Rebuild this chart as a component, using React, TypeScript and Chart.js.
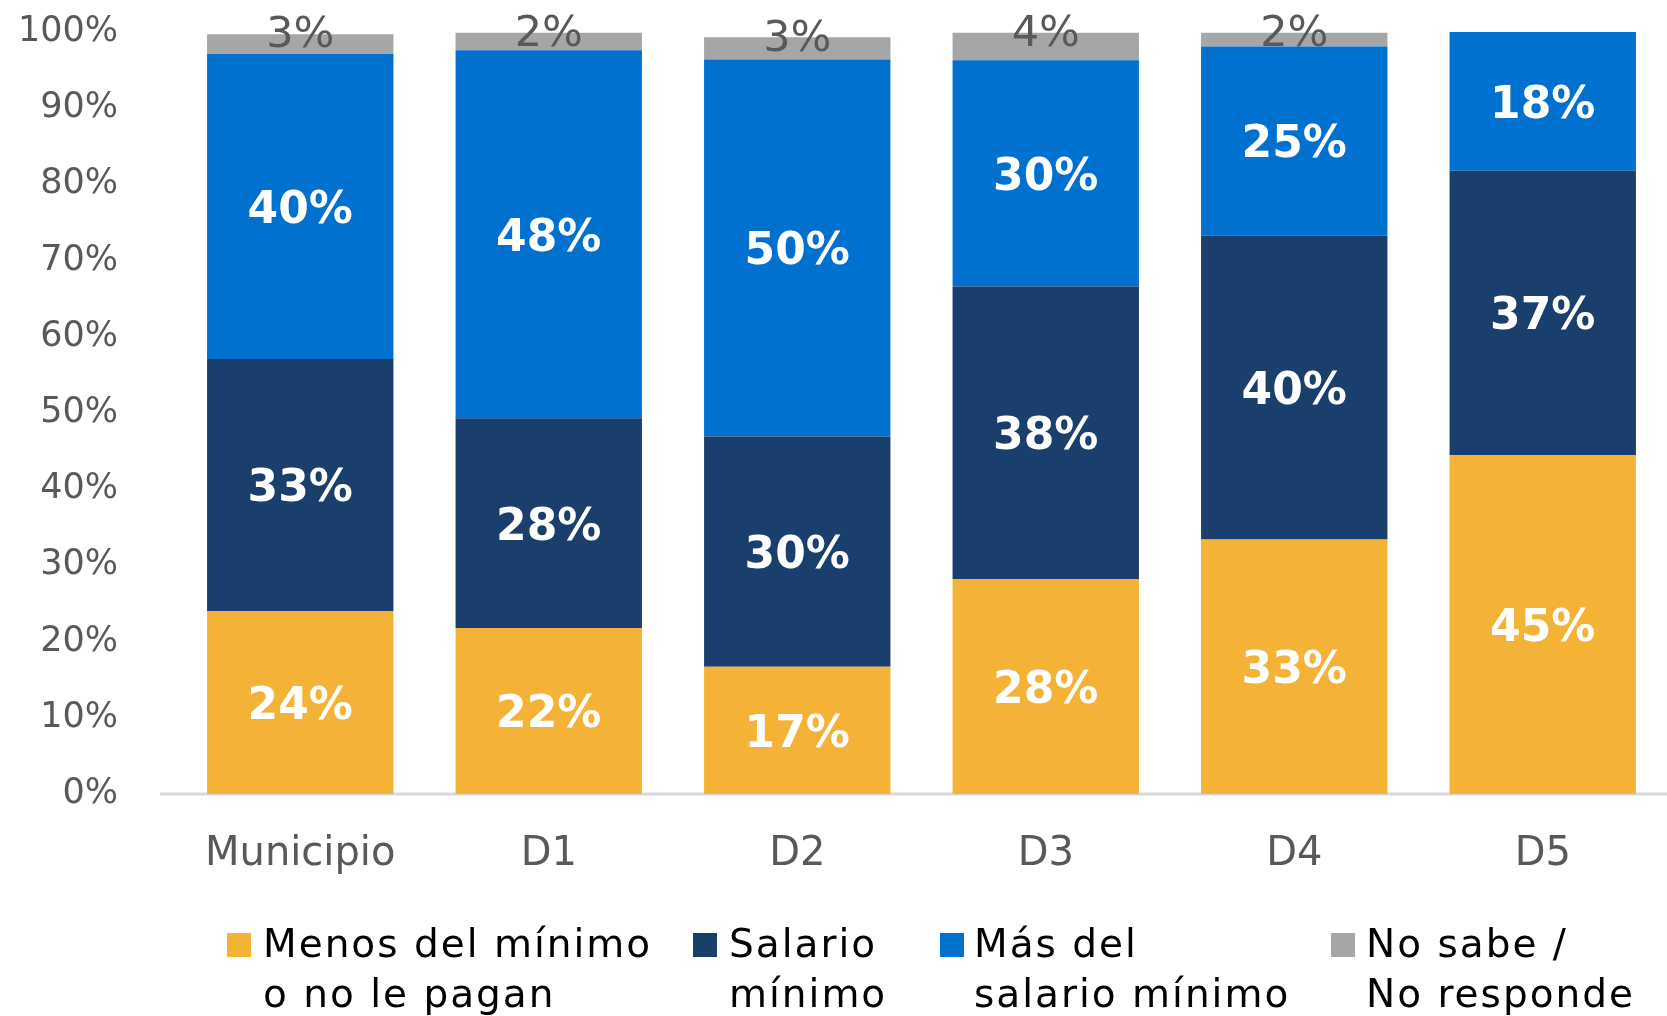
import React, { useEffect, useRef } from "react";
import { Chart, registerables } from "chart.js";

Chart.register(...registerables);

const categories = ["Municipio", "D1", "D2", "D3", "D4", "D5"];
const menosDelMinimo = [24.0, 21.8, 16.7, 28.2, 33.4, 44.5];
const salarioMinimo = [33.1, 27.5, 30.2, 38.4, 39.9, 37.3];
const masDelMinimo = [40.0, 48.3, 49.5, 29.7, 24.8, 18.2];
const noSabe = [2.6, 2.3, 2.9, 3.6, 1.8, 0];
const seriesLabels = [
  "Menos del mínimo\no no le pagan",
  "Salario\nmínimo",
  "Más del\nsalario mínimo",
  "No sabe /\nNo responde",
];
const seriesColors = ["#F4B336", "#1B3F6C", "#0071CF", "#A6A6A6"];
const yTicks = [0, 10, 20, 30, 40, 50, 60, 70, 80, 90, 100];

const FONT = "'DejaVu Sans', sans-serif";

const legendPos = [
  { sq: 227, tx: 263 },
  { sq: 693, tx: 729 },
  { sq: 940, tx: 974 },
  { sq: 1331, tx: 1366 },
];

const baselinePlugin = {
  id: "baseline",
  beforeDatasetsDraw(chart: any) {
    const ctx = chart.ctx;
    const y = chart.scales.y.getPixelForValue(0);
    ctx.save();
    ctx.strokeStyle = "#D9D9D9";
    ctx.lineWidth = 3;
    ctx.beginPath();
    ctx.moveTo(chart.chartArea.left - 16, y);
    ctx.lineTo(chart.chartArea.right, y);
    ctx.stroke();
    ctx.restore();
  },
};

const labelPlugin = {
  id: "segLabels",
  afterDatasetsDraw(chart: any) {
    const ctx = chart.ctx;
    ctx.save();
    ctx.textAlign = "center";
    ctx.textBaseline = "middle";
    chart.data.datasets.forEach((ds: any, di: number) => {
      const meta = chart.getDatasetMeta(di);
      meta.data.forEach((bar: any, i: number) => {
        const v = ds.data[i];
        if (!v) return;
        const txt = Math.round(v) + "%";
        if (di === 3) {
          ctx.font = `43px ${FONT}`;
          ctx.fillStyle = "#595959";
          ctx.fillText(txt, bar.x, bar.y + 2);
        } else {
          ctx.font = `bold 44px ${FONT}`;
          ctx.fillStyle = "#FFFFFF";
          ctx.fillText(txt, bar.x, (bar.y + bar.base) / 2 + 5);
        }
      });
    });
    ctx.restore();
  },
};

export default function App() {
  const ref = useRef<HTMLCanvasElement | null>(null);
  useEffect(() => {
    if (!ref.current) return;
    const series = [menosDelMinimo, salarioMinimo, masDelMinimo, noSabe];
    const chart = new Chart(ref.current, {
      type: "bar",
      data: {
        labels: categories,
        datasets: series.map((d, i) => ({
          label: seriesLabels[i],
          data: d,
          backgroundColor: seriesColors[i],
          borderWidth: 0,
          barPercentage: 0.75,
          categoryPercentage: 1,
        })),
      },
      options: {
        animation: false,
        responsive: false,
        devicePixelRatio: 1,
        layout: { padding: { top: 32, right: 0, bottom: 142, left: 0 } },
        plugins: {
          legend: { display: false },
          tooltip: { enabled: false },
        },
        scales: {
          x: {
            stacked: true,
            grid: { display: false, drawTicks: false },
            border: { display: false },
            ticks: {
              color: "#595959",
              font: { family: FONT, size: 40 },
              padding: 37,
            },
            afterFit: (s: any) => {
              s.height = 80;
            },
          },
          y: {
            stacked: true,
            min: 0,
            max: 100,
            grid: { display: false, drawTicks: false },
            border: { display: false },
            afterBuildTicks: (s: any) => {
              s.ticks = yTicks.map((v) => ({ value: v }));
            },
            ticks: {
              color: "#595959",
              font: { family: FONT, size: 35 },
              padding: 58,
              callback: (v: any) => v + "%",
            },
            afterFit: (s: any) => {
              s.width = 176;
              s.paddingTop = 20;
              s.paddingBottom = 20;
            },
          },
        },
      },
      plugins: [baselinePlugin, labelPlugin],
    });
    return () => chart.destroy();
  }, []);

  return (
    <div
      style={{
        position: "absolute",
        left: 0,
        top: 0,
        width: 1667,
        height: 1016,
        background: "#fff",
        overflow: "hidden",
      }}
    >
      <canvas
        ref={ref}
        width={1667}
        height={1016}
        style={{ position: "absolute", left: 0, top: 0, width: 1667, height: 1016 }}
      />
      {seriesLabels.map((lab, i) => (
        <React.Fragment key={i}>
          <div
            style={{
              position: "absolute",
              left: legendPos[i].sq,
              top: 933,
              width: 24,
              height: 24,
              background: seriesColors[i],
            }}
          />
          <div
            style={{
              position: "absolute",
              left: legendPos[i].tx,
              top: 919,
              fontFamily: FONT,
              fontSize: 39,
              lineHeight: "50px",
              letterSpacing: "2px",
              color: "#000",
              whiteSpace: "pre",
            }}
          >
            {lab}
          </div>
        </React.Fragment>
      ))}
    </div>
  );
}
